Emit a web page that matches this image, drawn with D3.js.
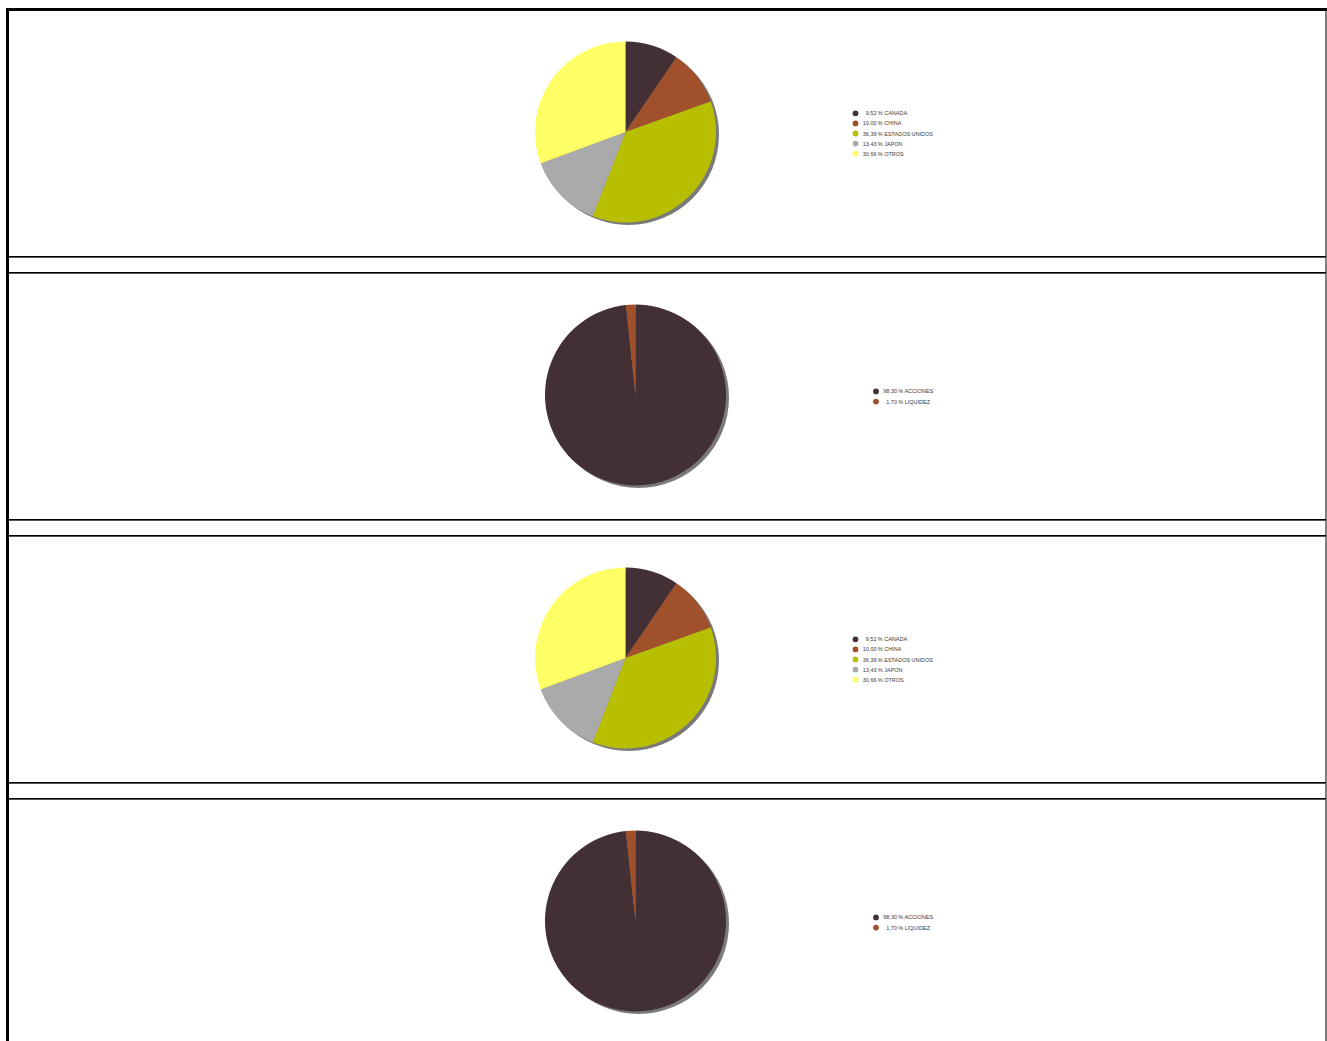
<!DOCTYPE html>
<html><head><meta charset="utf-8">
<script src="https://cdn.jsdelivr.net/npm/d3@7"></script>
<style>html,body{margin:0;padding:0;background:#fff;overflow:hidden}</style>
</head><body>
<script>
// ---- data ----
const countryLabels = ["CANADA", "CHINA", "ESTADOS UNIDOS", "JAPON", "OTROS"];
const countryValues = [9.52, 10.00, 36.39, 13.43, 30.66];
const assetLabels = ["ACCIONES", "LIQUIDEZ"];
const assetValues = [98.30, 1.70];
const sliceColors = ["#433035", "#A0502A", "#B8BF00", "#AAAAAA", "#FFFF66"];
const panelOrder = ["country", "asset", "country", "asset"];

const W = 1327, H = 1041;
const svg = d3.select("body").append("svg").attr("width", W).attr("height", H);
const defs = svg.append("defs");
defs.append("filter").attr("id", "blur").attr("x", "-10%").attr("y", "-10%").attr("width", "120%").attr("height", "120%")
  .append("feGaussianBlur").attr("stdDeviation", 0.5);

const fmt = v => d3.format(".2f")(v).replace(".", ",");

const period = 263, firstTop = 10;
// frame
svg.append("rect").attr("x", 6).attr("y", 8).attr("width", 3).attr("height", H).attr("fill", "#000");
svg.append("rect").attr("x", 6).attr("y", 8).attr("width", W - 6).attr("height", 3).attr("fill", "#000");
svg.append("rect").attr("x", 1325.5).attr("y", 8).attr("width", 1).attr("height", H).attr("fill", "#000");
for (let i = 0; i < 3; i++) {
  [256, 272].forEach(y0 => {
    const y = y0 + i * period;
    svg.append("rect").attr("x", 9).attr("y", y).attr("width", 1317).attr("height", 1).attr("fill", "#000");
    svg.append("rect").attr("x", 9).attr("y", y + 1).attr("width", 1317).attr("height", 1).attr("fill", "#555");
  });
}

const pie = d3.pie().sort(null).value(d => d.v);
const arc = d3.arc().innerRadius(0).outerRadius(90.5);

panelOrder.forEach((type, i) => {
  const top = firstTop + i * period;
  const labels = type === "country" ? countryLabels : assetLabels;
  const values = type === "country" ? countryValues : assetValues;
  const data = labels.map((l, k) => ({ l, v: values[k] }));
  const cx = type === "country" ? 625.5 : 635.5;
  const cy = top + 122;
  const g = svg.append("g").attr("transform", `translate(${cx},${cy})`);
  g.append("circle").attr("cx", 3).attr("cy", 2.5).attr("r", 90.5).attr("fill", "#7a7a7a").attr("filter", "url(#blur)");
  g.selectAll("path").data(pie(data)).join("path")
    .attr("d", arc).attr("fill", (d, k) => sliceColors[k]);

  // legend
  const lx = type === "country" ? 855.5 : 876;
  const rowH = 10.1;
  const y0 = cy + 1.5 - (data.length - 1) * rowH / 2;
  const lg = svg.append("g").attr("font-family", "Liberation Sans, Arial, sans-serif").attr("font-size", 5.5).attr("fill", "#3a3a3a");
  data.forEach((d, k) => {
    const y = y0 + k * rowH;
    lg.append("circle").attr("cx", lx).attr("cy", y).attr("r", 2.9).attr("fill", sliceColors[k]);
    lg.append("text").attr("x", lx + 21).attr("y", y + 2).attr("text-anchor", "end").text(fmt(d.v));
    lg.append("text").attr("x", lx + 22.3).attr("y", y + 2).text("% " + d.l);
  });
});
</script>
</body></html>
